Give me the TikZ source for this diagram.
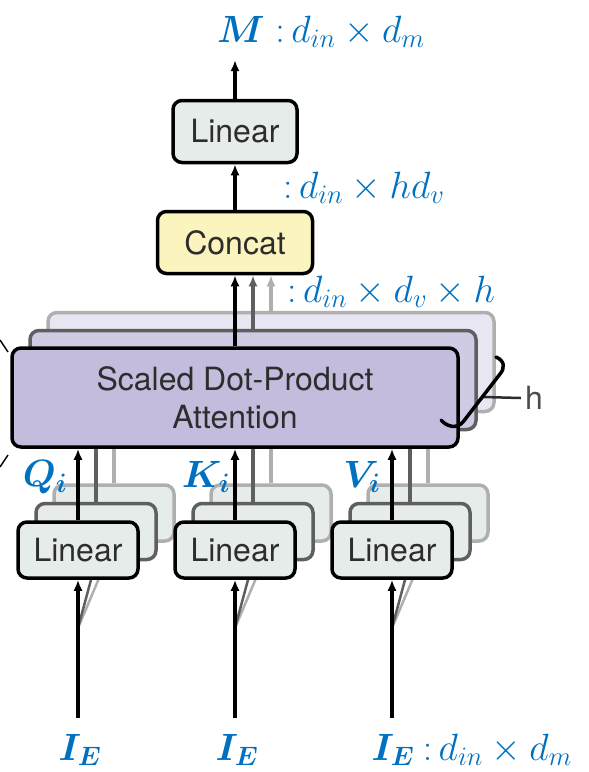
\documentclass[tikz,border=0pt]{standalone}
\usepackage{fix-cm}
\usepackage{amsmath,bm}
\usepackage{fontspec}
\setsansfont{TeX Gyre Heros}
\usetikzlibrary{arrows.meta,positioning}
\definecolor{labblue}{RGB}{0,112,192}
\definecolor{linfill}{RGB}{230,236,234}
\definecolor{catfill}{RGB}{251,244,190}
\definecolor{attfill}{RGB}{195,188,221}
\definecolor{attmid}{RGB}{208,203,229}
\definecolor{attback}{RGB}{232,230,242}
\definecolor{midgray}{RGB}{95,95,95}
\definecolor{backgray}{RGB}{175,175,175}
\definecolor{txtgray}{RGB}{45,45,45}

\begin{document}
\begin{tikzpicture}[x=1pt,y=-1pt,>={Latex[length=11pt,width=9pt]},
    box/.style={draw,line width=3.5pt,rounded corners=9pt,text=txtgray,
        font=\fontsize{32}{38}\selectfont\sffamily},
    linbox/.style={box,fill=linfill,minimum width=120pt,minimum height=56pt},
    attbox/.style={box,fill=attfill,minimum width=446pt,minimum height=99pt,align=center},
    midcopy/.style={draw=midgray},
    backcopy/.style={draw=backgray},
    arr/.style={->,line width=3.5pt},
    lab/.style={text=labblue,font=\fontsize{38}{44}\selectfont,inner sep=0pt}]
\useasboundingbox (0,0) rectangle (589,772);
% top part
\node[box,fill=linfill,minimum width=124pt,minimum height=62pt] (lout) at (235,131.5) {Linear};
\node[box,fill=catfill,minimum width=155pt,minimum height=62pt] (cc) at (235,242.5) {Concat};
\coordinate (mout) at (235,60);
\draw[arr] (lout.north) -- (mout);
\draw[arr] (cc.north) -- (lout.south);
% attention stack
\node[attbox,backcopy,fill=attback] (attb) at (271,362) {};
\node[attbox,midcopy,fill=attmid] (attm) at (253,380) {};
\draw[arr,backgray] (attb.north) -- (attb.north |- cc.south);
\draw[arr,midgray] (attm.north) -- (attm.north |- cc.south);
% linear stacks
\foreach \n/\x in {q/78,k/235,v/392}{
    \node[linbox,backcopy] (lin\n b) at ({\x+36},513) {};
    \node[linbox,midcopy] (lin\n m) at ({\x+18},531.5) {};
    \coordinate (in\n) at (\x,718);
    \draw[line width=2.5pt,backgray] (\x,628) -- (lin\n b.south);
    \draw[line width=2.5pt,midgray] (\x,628) -- (lin\n m.south);
    \draw[arr,backgray] (lin\n b.north) -- (lin\n b.north |- attb.south);
    \draw[arr,midgray] (lin\n m.north) -- (lin\n m.north |- attm.south);
    \node[linbox] (lin\n) at (\x,550) {Linear};
    \draw[arr] (in\n) -- (lin\n.south);
}
\node[attbox] (att) at (235,397.5) {Scaled Dot-Product\\Attention};
\draw[arr] (att.north) -- (cc.south);
\foreach \n in {q,k,v}
    \draw[arr] (lin\n.north) -- (lin\n.north |- att.south);
% h bracket
\node[font=\fontsize{32}{36}\selectfont\sffamily,text=txtgray!85,inner sep=0pt] (hlab) at (534,398) {h};
\draw[line width=2.5pt,txtgray] (483,397) -- ([xshift=-4pt]hlab.west);
\draw[line width=3.5pt,line cap=round] (496,357) .. controls (505,361) and (505,368) .. (500,374)
    -- (463,422) .. controls (457,429) and (447,427) .. (441,420);
\draw[line width=1.5pt] (0,340) -- (8,352);
\draw[line width=1.5pt] (0,467) -- (8,455);
% labels
\node[lab,anchor=base west] (mlab) at (217,42) {$\bm{M}\;{:}\,d_{in}\times d_m$};
\node[lab,anchor=base west] at (283,198) {${:}\,d_{in}\times hd_v$};
\node[lab,anchor=base west] at (287,302) {${:}\,d_{in}\times d_v\times h$};
\node[lab] (qlab) at (45,477) {$\bm{Q_i}$};
\node[lab] (klab) at (206,477) {$\bm{K_i}$};
\node[lab] (vlab) at (362,477) {$\bm{V_i}$};
\foreach \n/\x in {1/80,2/237,3/393}
    \node[lab] (ie\n) at (\x,750) {$\bm{I_E}$};
\node[lab,anchor=base west] at ([xshift=8pt]ie3.base east) {${:}\,d_{in}\times d_m$};
\end{tikzpicture}
\end{document}
